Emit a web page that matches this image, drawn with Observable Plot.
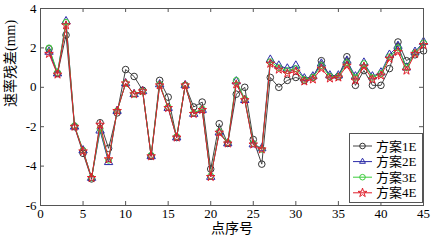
<!DOCTYPE html>
<html>
<head>
<meta charset="utf-8">
<script src="https://cdn.jsdelivr.net/npm/d3@7"></script>
<script src="https://cdn.jsdelivr.net/npm/@observablehq/plot@0.6"></script>
<style>
  body { margin: 0; background: white; }
  #wrap { position: relative; width: 434px; height: 240px; }
  #legend { position: absolute; left: 349px; top: 133px; }
</style>
</head>
<body>
<div id="wrap"></div>
<script>
const pointIndex = [1,2,3,4,5,6,7,8,9,10,11,12,13,14,15,16,17,18,19,20,21,22,23,24,25,26,27,28,29,30,31,32,33,34,35,36,37,38,39,40,41,42,43,44,45];
const seriesNames = ["方案1E", "方案2E", "方案3E", "方案4E"];
const s1E = [1.95,0.7,2.65,-2.0,-3.35,-4.65,-1.8,-3.1,-1.3,0.9,0.55,-0.15,-3.5,0.35,-0.5,-2.55,0.1,-1.0,-0.75,-4.15,-1.85,-2.85,-0.35,0.0,-2.65,-3.9,0.5,0.0,0.35,0.5,0.35,0.5,1.35,0.55,0.55,1.55,0.1,0.85,0.1,0.1,0.95,2.3,1.35,1.65,1.85];
const s2E = [1.8,0.7,3.35,-2.0,-3.2,-4.6,-2.2,-3.8,-1.2,0.2,-0.35,-0.2,-3.5,0.15,-1.05,-2.55,0.1,-1.35,-1.15,-4.55,-2.3,-2.85,0.3,-0.65,-2.9,-3.1,1.4,1.1,0.95,1.1,0.45,0.55,1.2,0.6,0.6,1.35,0.55,1.25,0.55,0.75,1.65,2.1,1.0,1.8,2.3];
const s3E = [2.0,0.75,3.3,-1.95,-3.2,-4.6,-2.1,-3.7,-1.2,0.2,-0.35,-0.2,-3.45,0.15,-1.0,-2.5,0.1,-1.3,-1.1,-4.5,-2.25,-2.8,0.35,-0.6,-2.85,-3.15,1.3,1.0,0.85,0.95,0.4,0.5,1.1,0.55,0.55,1.25,0.5,1.2,0.5,0.7,1.55,2.0,1.0,1.75,2.25];
const s4E = [1.7,0.65,3.15,-2.0,-3.25,-4.6,-1.9,-3.65,-1.2,0.2,-0.35,-0.2,-3.5,0.1,-1.05,-2.55,0.1,-1.35,-1.15,-4.55,-2.3,-2.85,0.15,-0.65,-2.9,-3.15,1.2,0.9,0.7,0.8,0.3,0.4,0.95,0.45,0.5,1.1,0.35,1.05,0.4,0.6,1.45,1.8,0.85,1.7,2.15];
const xTicks = [0,5,10,15,20,25,30,35,40,45];
const yTicks = [-6,-4,-2,0,2,4];
const xLabel = "点序号";
const yLabel = "速率残差(mm)";

const seriesValues = [s1E, s2E, s3E, s4E];
const colors = ["#444444", "#2a2aa8", "#3ccc3c", "#e0202c"];
const markStroke = ["#333333", "#2a2aa8", "#3ccc3c", "#e0202c"];
const symbols = ["circle", "triangle", "circle", "star"];
const sizes = [3.3, 3.1, 3.0, 2.7];
const d3symbols = [d3.symbolCircle, d3.symbolTriangle2, d3.symbolCircle, d3.symbolStar];

const W = 434, H = 240, mL = 40, mR = 11, mT = 8, mB = 35;
const innerW = W - mL - mR, innerH = H - mT - mB;
const tickLen = 4;

const seriesMarks = [];
seriesValues.forEach((vals, k) => {
  const data = pointIndex.map((p, j) => ({i: p, v: vals[j]}));
  seriesMarks.push(Plot.line(data, {x: "i", y: "v", stroke: colors[k], strokeWidth: 1}));
  seriesMarks.push(Plot.dot(data, {x: "i", y: "v", symbol: symbols[k], r: sizes[k], stroke: markStroke[k], fill: "none", strokeWidth: 1}));
});

const fmt = d => String(d);
const chart = Plot.plot({
  width: W, height: H,
  marginLeft: mL, marginRight: mR, marginTop: mT, marginBottom: mB,
  x: {domain: [0, 45]},
  y: {domain: [-6, 4]},
  style: {fontFamily: "'Liberation Serif', 'Noto Sans CJK SC', serif", fontSize: "13px", background: "white", color: "black"},
  marks: [
    Plot.axisX({ticks: xTicks, tickSize: 0, tickPadding: 3, label: null, tickFormat: fmt, fontSize: 13}),
    Plot.axisY({ticks: yTicks, tickSize: 0, tickPadding: 4, label: null, tickFormat: fmt, fontSize: 13}),
    Plot.tickX(xTicks, {x: d => d, insetTop: innerH - tickLen, stroke: "#555"}),
    Plot.tickX(xTicks, {x: d => d, insetBottom: innerH - tickLen, stroke: "#555"}),
    Plot.tickY(yTicks, {y: d => d, insetRight: innerW - tickLen, stroke: "#555"}),
    Plot.tickY(yTicks, {y: d => d, insetLeft: innerW - tickLen, stroke: "#555"}),
    ...seriesMarks,
    Plot.frame({stroke: "#555"}),
    Plot.text([xLabel], {text: d => d, frameAnchor: "bottom", dy: 27, fontSize: 14, fill: "black"}),
    Plot.text([yLabel], {text: d => d, frameAnchor: "left", rotate: -90, dx: -30, fontSize: 14, fill: "black"})
  ]
});
const wrap = document.getElementById("wrap");
wrap.appendChild(chart);

// legend
const lw = 74, lh = 70;
const leg = d3.select(wrap).append("svg").attr("id", "legend")
  .attr("width", lw).attr("height", lh)
  .style("font-family", "'Liberation Serif', 'Noto Sans CJK SC', serif");
leg.append("rect").attr("x", 0.5).attr("y", 0.5).attr("width", lw - 1).attr("height", lh - 1)
  .attr("fill", "white").attr("stroke", "#555");
seriesNames.forEach((name, k) => {
  const cy = 13 + k * 15.6;
  leg.append("line").attr("x1", 4).attr("x2", 23).attr("y1", cy).attr("y2", cy)
    .attr("stroke", colors[k]).attr("stroke-width", 1);
  leg.append("path").attr("d", d3.symbol(d3symbols[k], Math.PI * 2.8 * 2.8)())
    .attr("transform", `translate(13.5,${cy})`)
    .attr("fill", "none").attr("stroke", markStroke[k]);
  leg.append("text").attr("x", 27).attr("y", cy).attr("dy", "0.35em")
    .attr("font-size", 13).text(name);
});
</script>
</body>
</html>
